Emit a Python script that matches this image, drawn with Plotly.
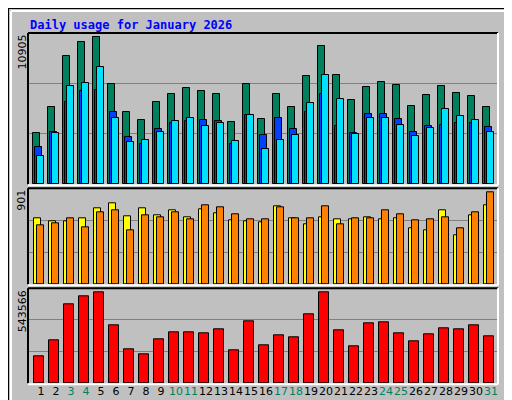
import plotly.graph_objects as go

days = list(range(1, 32))
weekend_days = [3, 4, 10, 11, 17, 18, 24, 25, 31]
hits = [3720, 5572, 9226, 10235, 10596, 7208, 5190, 4613, 5911, 6487, 6920, 6703, 6487, 4469, 7208, 4685,
        6487, 5550, 7785, 9947, 7857, 6055, 6992, 7352, 7136, 5622, 6415, 7064, 6559, 6343, 5550]
files = [2667, 3748, 5911, 6703, 6776, 5190, 3388, 2883, 3964, 4397, 4541, 4613, 4541, 2883, 4974, 3532,
         4757, 3964, 5190, 6487, 4181, 3676, 5046, 5046, 4685, 3748, 4181, 4253, 4397, 4397, 4109]
pages = [2018, 3720, 7064, 7280, 8433, 4757, 3027, 3172, 3748, 4541, 4757, 4181, 4397, 3099, 4974, 2523,
         3172, 3532, 5838, 7857, 6127, 3604, 4757, 4757, 4253, 3460, 4036, 5406, 4901, 4613, 3748]
visits = [619, 591, 591, 619, 713, 760, 638, 713, 648, 695, 629, 704, 666, 601, 591, 582,
          732, 619, 563, 629, 610, 610, 629, 610, 619, 526, 507, 695, 460, 648, 741]
sites = [554, 573, 619, 535, 676, 695, 507, 648, 629, 676, 610, 741, 723, 657, 610, 610,
         723, 619, 619, 732, 563, 619, 619, 695, 657, 601, 610, 629, 526, 676, 863]
kbytes = [154500, 246000, 452000, 497800, 520700, 331900, 194500, 165900, 251800, 291800, 291800, 286100,
          309000, 188800, 354800, 217400, 274700, 263200, 394800, 520700, 303300, 211700, 343300, 349000,
          286100, 240300, 280400, 314700, 309000, 331900, 268900]
max_hits = 10905
max_visits = 901
max_kbytes = 543566
title = "Daily usage for January 2026"

GREEN, BLUE, CYAN = "#00805C", "#0040FF", "#00E0FF"
YELLOW, ORANGE, RED = "#FFFF00", "#FF8000", "#FF0000"
BG = "#C0C0C0"
FONT = "DejaVu Sans Mono"

fig = go.Figure()

def bar(y, color, off, w, xa, ya):
    fig.add_trace(go.Bar(x=days, y=y, marker=dict(color=color, line=dict(color="black", width=1)),
                         offset=off, width=w, xaxis=xa, yaxis=ya, showlegend=False, hoverinfo="skip"))

bar(hits, GREEN, -0.51, 0.47, "x", "y")
bar(files, BLUE, -0.38, 0.47, "x", "y")
bar(pages, CYAN, -0.25, 0.47, "x", "y")
bar(visits, YELLOW, -0.49, 0.5, "x2", "y2")
bar(sites, ORANGE, -0.25, 0.47, "x2", "y2")
bar(kbytes, RED, -0.45, 0.67, "x3", "y3")

xr = [0.133, 31.467]
xdom = [20 / 512, 490 / 512]
def py(p):
    return 1 - p / 400

panels = [(25, 176.3, max_hits), (180.3, 276.3, max_visits), (280.3, 375.3, max_kbytes)]
ticktext = []
for d in days:
    c = GREEN if d in weekend_days else "black"
    ticktext.append(f"<span style='color:{c}'>{d}</span>")

layout = dict(width=512, height=400, margin=dict(l=0, r=0, t=0, b=0), paper_bgcolor=BG,
              plot_bgcolor=BG, barmode="overlay", bargap=0)
for i, (top, bot, mx) in enumerate(panels):
    s = "" if i == 0 else str(i + 1)
    layout["xaxis" + s] = dict(domain=xdom, range=xr, anchor="y" + s, showgrid=False, zeroline=False,
                               showline=False, showticklabels=(i == 2), tickvals=days if i == 2 else None,
                               ticktext=ticktext if i == 2 else None, ticks="", tickangle=0,
                               tickfont=dict(family="DejaVu Sans", size=11, color="black"))
    layout["yaxis" + s] = dict(domain=[py(bot), py(top)], range=[0, mx], anchor="x" + s,
                               tickvals=[mx / 3, 2 * mx / 3], showticklabels=False, ticks="",
                               showgrid=True, gridcolor="#808080", gridwidth=1, zeroline=False, showline=False)
fig.update_layout(**layout)

shapes = []
shapes.append(dict(type="rect", xref="paper", yref="paper", x0=0, x1=1, y0=0, y1=1,
                   line=dict(color="black", width=2)))
shapes.append(dict(type="line", xref="paper", yref="paper", x0=3/512, x1=3/512, y0=py(396), y1=py(3),
                   line=dict(color="white", width=2)))
shapes.append(dict(type="line", xref="paper", yref="paper", x0=3/512, x1=507/512, y0=py(3), y1=py(3),
                   line=dict(color="white", width=2)))
shapes.append(dict(type="line", xref="paper", yref="paper", x0=508/512, x1=508/512, y0=py(397), y1=py(4),
                   line=dict(color="#808080", width=5)))
shapes.append(dict(type="line", xref="paper", yref="paper", x0=4/512, x1=510/512, y0=py(397), y1=py(397),
                   line=dict(color="#808080", width=5)))
for top, bot, mx in panels:
    x0, x1 = xdom
    shapes.append(dict(type="line", xref="paper", yref="paper", x0=x0, x1=x1, y0=py(top), y1=py(top),
                       line=dict(color="black", width=2)))
    shapes.append(dict(type="line", xref="paper", yref="paper", x0=x0, x1=x0, y0=py(bot), y1=py(top),
                       line=dict(color="black", width=2)))
    shapes.append(dict(type="line", xref="paper", yref="paper", x0=x1, x1=x1, y0=py(bot + 1), y1=py(top),
                       line=dict(color="white", width=2)))
    shapes.append(dict(type="line", xref="paper", yref="paper", x0=x0, x1=x1, y0=py(bot + 1), y1=py(bot + 1),
                       line=dict(color="white", width=2)))
fig.update_layout(shapes=shapes)

ann = [dict(text=f"<b>{title}</b>", x=20/512, y=py(8), xref="paper", yref="paper", xanchor="left",
            yanchor="top", showarrow=False, font=dict(family=FONT, size=12, color="#0000FF"))]
for (top, bot, mx) in panels:
    ann.append(dict(text=str(mx), x=14/512, y=py(top), xref="paper", yref="paper", xanchor="center",
                    yanchor="top", textangle=-90, showarrow=False,
                    font=dict(family="DejaVu Sans", size=11, color="black")))

# right-side rotated labels: (text, color, top pixel y)
right_labels = [("Hits", GREEN, 28), ("/", "black", 52), ("Files", BLUE, 64), ("/", "black", 96),
                ("Pages", CYAN, 108), ("Visits", YELLOW, 197), ("/", "black", 233), ("Sites", ORANGE, 246),
                ("KBytes", RED, 341)]
for t, c, ytop in right_labels:
    ann.append(dict(text=t, x=501/512, y=py(ytop), xref="paper", yref="paper", xanchor="center",
                    yanchor="top", textangle=-90, showarrow=False,
                    font=dict(family=FONT, size=10, color=c)))
fig.update_layout(annotations=ann)

fig.write_html("out.html")
